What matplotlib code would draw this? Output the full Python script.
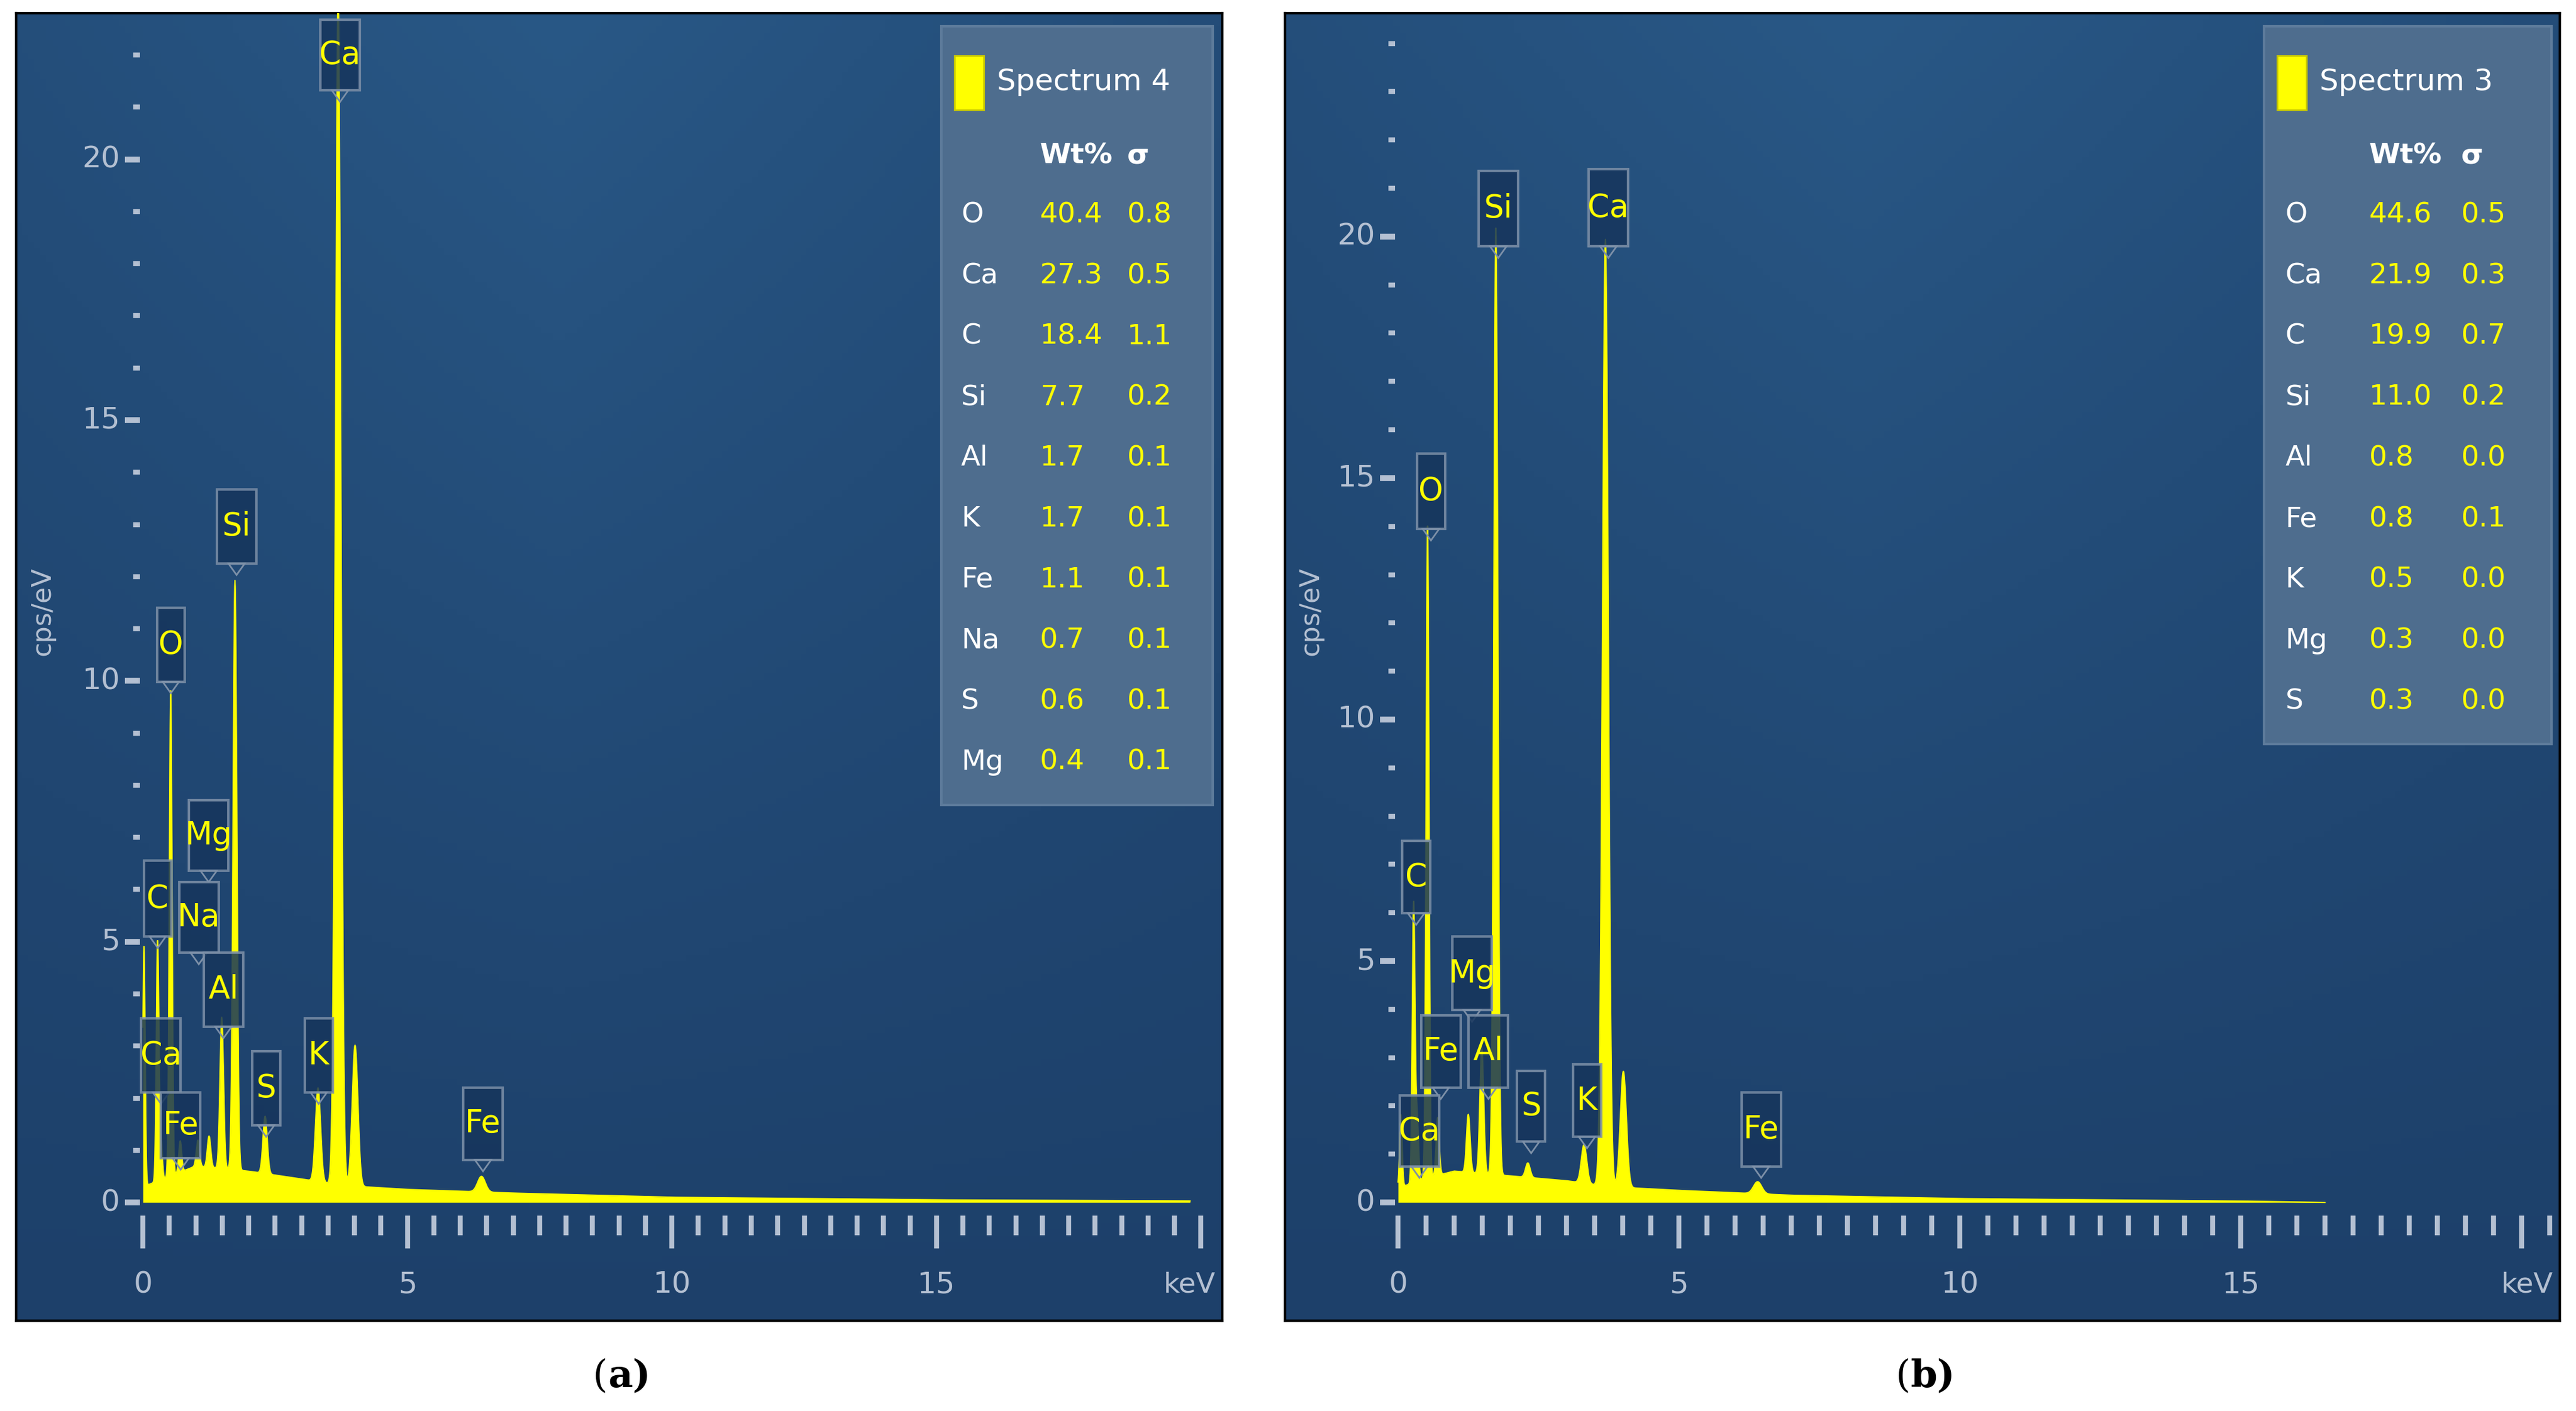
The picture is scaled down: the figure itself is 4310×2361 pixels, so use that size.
import numpy as np
import matplotlib
matplotlib.use("Agg")
import matplotlib.pyplot as plt
from matplotlib.patches import Rectangle, Polygon

# ---------------- data ----------------
# panel (a) Spectrum 4
a_peak_keV = [0.02, 0.277, 0.34, 0.525, 0.705, 1.04, 1.25, 1.49, 1.74, 2.31, 3.31, 3.69, 4.01, 6.40]
a_peak_cps = [4.6, 4.6, 0.8, 9.3, 0.6, 0.5, 0.6, 2.9, 11.3, 1.1, 1.8, 22.8, 2.7, 0.3]
a_bg_keV = [0.0, 0.5, 1.0, 2.0, 3.0, 3.6, 4.2, 5.0, 7.0, 10.0, 15.0, 19.8]
a_bg_cps = [0.3, 0.5, 0.7, 0.6, 0.45, 0.35, 0.3, 0.25, 0.18, 0.1, 0.05, 0.03]
a_elem = ["O", "Ca", "C", "Si", "Al", "K", "Fe", "Na", "S", "Mg"]
a_wt = ["40.4", "27.3", "18.4", "7.7", "1.7", "1.7", "1.1", "0.7", "0.6", "0.4"]
a_sig = ["0.8", "0.5", "1.1", "0.2", "0.1", "0.1", "0.1", "0.1", "0.1", "0.1"]

# panel (b) Spectrum 3
b_peak_keV = [0.05, 0.277, 0.34, 0.525, 0.705, 1.25, 1.49, 1.74, 2.31, 3.31, 3.69, 4.01, 6.40]
b_peak_cps = [1.5, 5.8, 1.3, 13.5, 1.2, 1.2, 2.6, 19.6, 0.3, 0.8, 19.6, 2.4, 0.25]
b_bg_keV = [0.0, 0.5, 1.0, 2.0, 3.0, 3.6, 4.2, 5.0, 7.0, 10.0, 15.0, 16.5]
b_bg_cps = [0.3, 0.5, 0.65, 0.55, 0.45, 0.35, 0.3, 0.25, 0.15, 0.08, 0.03, 0.0]
b_elem = ["O", "Ca", "C", "Si", "Al", "Fe", "K", "Mg", "S"]
b_wt = ["44.6", "21.9", "19.9", "11.0", "0.8", "0.8", "0.5", "0.3", "0.3"]
b_sig = ["0.5", "0.3", "0.7", "0.2", "0.0", "0.1", "0.0", "0.0", "0.0"]

# peak label layout: text, display-x, box top, box bottom (display px of reference)
a_labels = [("Ca", 207, 12, 55), ("Si", 144, 298, 343), ("O", 104, 370, 415),
            ("Mg", 127, 487, 530), ("C", 96, 524, 570), ("Na", 121, 537, 580),
            ("Al", 136, 580, 625), ("Ca", 98, 620, 665), ("Fe", 110, 665, 705),
            ("S", 162, 640, 685), ("K", 194, 620, 665), ("Fe", 294, 662, 706)]
b_labels = [("Si", 912, 104, 150), ("Ca", 979, 103, 150), ("O", 871, 276, 322),
            ("C", 862, 512, 556), ("Mg", 896, 570, 615), ("Fe", 877, 618, 662),
            ("Al", 906, 618, 662), ("Ca", 864, 667, 710), ("S", 932, 652, 695),
            ("K", 966, 648, 692), ("Fe", 1072, 665, 710)]

W, H = 4310, 2361
fig = plt.figure(figsize=(W / 100, H / 100), dpi=100)
fig.patch.set_facecolor("white")
YEL = "#ffff00"
TICKC = "#b4c0d2"


def spectrum(E, keV, cps, bgk, bgc):
    y = np.interp(E, bgk, bgc, right=0.0)
    for e, h in zip(keV, cps):
        s = 0.022 + 0.008 * e
        y = y + h * np.exp(-0.5 * ((E - e) / s) ** 2)
    return y


def panel(box, x0px, pxk, y0px, pxu, keV, cps, bgk, bgc, emax, labels,
          leg, elem, wt, sig, title, tickmax, caption_x, cap):
    L, R, T, B = box  # display px of reference (scale 2.749)
    sc = W / 1568.0
    ax = fig.add_axes([L * sc / W, 1 - B * sc / H, (R - L) * sc / W, (B - T) * sc / H])
    xl = ((L - x0px) / pxk, (R - x0px) / pxk)
    yl = ((y0px - B) / pxu, (y0px - T) / pxu)
    ax.set_xlim(*xl)
    ax.set_ylim(*yl)
    ax.set_xticks([]); ax.set_yticks([])
    for s in ax.spines.values():
        s.set_color("black"); s.set_linewidth(3)
    X = lambda p: (p - x0px) / pxk
    Y = lambda p: (y0px - p) / pxu
    # background gradient
    gx = np.linspace(-1, 1, 200)
    gy = np.linspace(0, 1, 200)
    GX, GY = np.meshgrid(gx, gy)
    v = np.clip(0.55 * GY + 0.45 * (1 - np.abs(GX + 0.1)) * GY, 0, 1)
    c0 = np.array([0x1d, 0x40, 0x6a]) / 255
    c1 = np.array([0x29, 0x58, 0x86]) / 255
    img = c0[None, None, :] + (c1 - c0)[None, None, :] * v[:, :, None]
    ax.imshow(img, extent=[0, 1, 0, 1], transform=ax.transAxes, origin="lower",
              aspect="auto", zorder=0)
    # spectrum
    E = np.arange(0.0, emax, 0.005)
    y = spectrum(E, keV, cps, bgk, bgc)
    ax.fill_between(E, 0, y, color=YEL, lw=0, zorder=3)
    ax.plot(E, y, color=YEL, lw=1.5, zorder=3)
    # y ticks
    dx = 1.0 / pxk  # one display px in keV
    for v_ in range(0, int(yl[1]) + 1):
        major = v_ % 5 == 0
        x_a = -(9 if major else 4) * dx - 2 * dx
        ax.plot([x_a, -2 * dx], [v_, v_], color=TICKC, lw=7 if major else 6,
                solid_capstyle="butt", zorder=4)
        if major:
            ax.text(-14 * dx, v_, str(v_), color=TICKC, fontsize=36, ha="right",
                    va="center", zorder=4)
    ax.text(X(L + 16), Y(372), "cps/eV", color=TICKC, fontsize=32,
            rotation=90, ha="center", va="center")
    # x ticks
    dy = 1.0 / pxu
    xt = np.arange(0, tickmax + 0.01, 0.5)
    for t in xt:
        major = abs(t % 5) < 1e-6
        ax.plot([t, t], [-8 * dy, -(28 if major else 20) * dy], color=TICKC,
                lw=6, solid_capstyle="butt", zorder=4)
        if major and t < 20:
            ax.text(t, -50 * dy, str(int(t)), color=TICKC, fontsize=36,
                    ha="center", va="center")
    ax.text(xl[1] - 4 * dx, -50 * dy, "keV", color=TICKC, fontsize=34,
            ha="right", va="center")
    # peak labels
    for txt, Xp, top, bot in labels:
        xc = X(Xp)
        yt = Y(top)
        yb = Y(bot)
        w = (10 + 7 * len(txt)) * dx
        ax.add_patch(Rectangle((xc - w / 2, yb), w, yt - yb, fc="#16355c",
                               ec="#7d90a8", lw=3, alpha=0.85, zorder=5))
        ax.add_patch(Polygon([[xc - 5 * dx, yb], [xc + 5 * dx, yb], [xc, yb - 7 * dy]],
                             closed=True, fc="none", ec="#7d90a8", lw=2, zorder=5))
        ax.text(xc, (yt + yb) / 2, txt, color=YEL, fontsize=38, ha="center",
                va="center", zorder=6)
    # legend table
    lL, lR, lT, lB, cE, cW, cS = leg
    ax.add_patch(Rectangle((X(lL), Y(lB)), X(lR) - X(lL), Y(lT) - Y(lB),
                           fc="#4e6d8e", ec="#5d7b9b", lw=3, zorder=6))
    ax.add_patch(Rectangle((X(lL + 8), Y(67)), 18 * dx, 33 * dy, fc=YEL,
                           ec="#c8c800", lw=2, zorder=7))
    ax.text(X(lL + 34), Y(50), title, color="white", fontsize=36, va="center",
            ha="left", zorder=7)
    ax.text(X(cW), Y(95), "Wt%", color="white", fontsize=34, fontweight="bold",
            va="center", ha="left", zorder=7)
    ax.text(X(cS), Y(95), "σ", color="white", fontsize=34, fontweight="bold",
            va="center", ha="left", zorder=7)
    for i, (e, w_, s_) in enumerate(zip(elem, wt, sig)):
        yy = Y(131 + 37 * i)
        ax.text(X(cE), yy, e, color="white", fontsize=34, va="center", zorder=7)
        ax.text(X(cW), yy, w_, color=YEL, fontsize=34, va="center", zorder=7)
        ax.text(X(cS), yy, s_, color=YEL, fontsize=34, va="center", zorder=7)
    fig.text(caption_x * sc / W, 1 - 838 * sc / H, "(", fontsize=46,
             family="DejaVu Serif", ha="right", va="center")
    fig.text(caption_x * sc / W, 1 - 838 * sc / H, cap, fontsize=46,
             family="DejaVu Serif", fontweight="bold", ha="left", va="center")
    return ax


panel((10, 744, 8, 804), 87, 32.2, 732, 31.75, a_peak_keV, a_peak_cps, a_bg_keV,
      a_bg_cps, 19.8, a_labels, (573, 738, 16, 490, 585, 633, 686), a_elem, a_wt,
      a_sig, "Spectrum 4", 20.0, 370, "a)")
panel((782, 1558, 8, 804), 851, 34.2, 732, 29.4, b_peak_keV, b_peak_cps, b_bg_keV,
      b_bg_cps, 16.5, b_labels, (1378, 1553, 16, 453, 1391, 1442, 1498), b_elem,
      b_wt, b_sig, "Spectrum 3", 20.5, 1163, "b)")

fig.savefig("out.png", dpi=100, facecolor="white")
